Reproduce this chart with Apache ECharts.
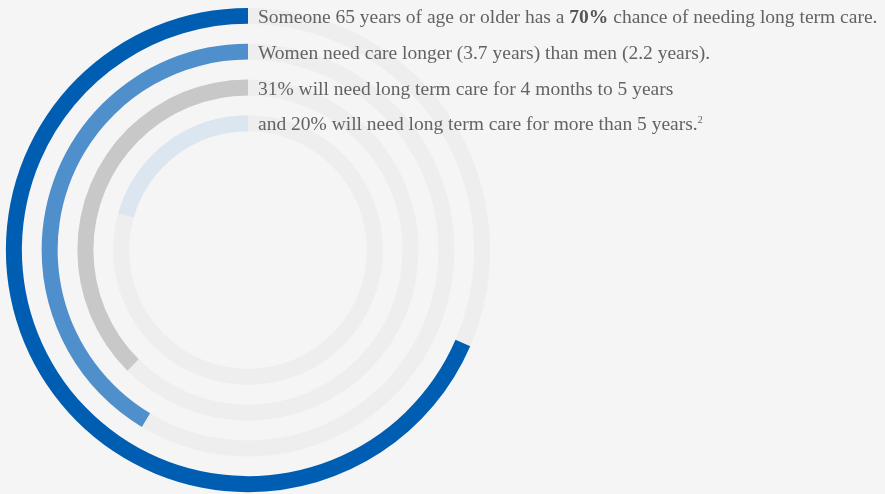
<!DOCTYPE html>
<html><head><meta charset="utf-8">
<script src="https://cdn.jsdelivr.net/npm/echarts@6/dist/echarts.min.js"></script>
<style>html,body{margin:0;padding:0;background:#f5f5f5}#c{width:885px;height:494px}</style>
</head><body><div id="c"></div>
<script>
// rings listed from innermost to outermost
var rings = ['ring4', 'ring3', 'ring2', 'ring1'];
var values = [20.6, 37.5, 41.4, 68.5];
var trackValues = [100, 100, 100, 100];
var colors = ['#dce6f1', '#c8c8c8', '#4f8fcc', '#005eb2'];
// text lines, outermost ring first
var lines = [
  'Someone 65 years of age or older has a {b|70%} chance of needing long term care.',
  'Women need care longer (3.7 years) than men (2.2 years).',
  '31% will need long term care for 4 months to 5 years',
  'and 20% will need long term care for more than 5 years.{sup|2}'
];

var cx = 248, cy = 250, r0 = 109, r1 = 252;
var band = (r1 - r0) / rings.length;
var fs = 19.5;
var graphics = lines.map(function (t, i) {
  var rc = r1 - band * (i + 0.5);
  return {
    type: 'text', left: 258, top: cy - rc - 8, z: 100,
    style: {
      text: t, fill: '#636363', font: fs + 'px "Liberation Serif"',
      rich: {
        b: { fontWeight: 'bold', fill: '#555', fontSize: fs, fontFamily: 'Liberation Serif' },
        sup: { fontSize: 10, fill: '#636363', fontFamily: 'Liberation Serif', verticalAlign: 'top', padding: [0, 0, 8, 0] }
      }
    }
  };
});

var chart = echarts.init(document.getElementById('c'));
chart.setOption({
  backgroundColor: '#f5f5f5',
  animation: false,
  polar: { center: [cx, cy], radius: [r0, r1] },
  angleAxis: { type: 'value', min: 0, max: 100, startAngle: 90, clockwise: false, show: false },
  radiusAxis: { type: 'category', data: rings, show: false },
  series: [
    { type: 'bar', coordinateSystem: 'polar', data: trackValues, barWidth: 16, barGap: '-100%',
      itemStyle: { color: '#eeeeee' }, silent: true, z: 1 },
    { type: 'bar', coordinateSystem: 'polar', barWidth: 16, barGap: '-100%', z: 2,
      data: values.map(function (v, i) { return { value: v, itemStyle: { color: colors[i] } }; }) }
  ],
  graphic: graphics
});
</script></body></html>
